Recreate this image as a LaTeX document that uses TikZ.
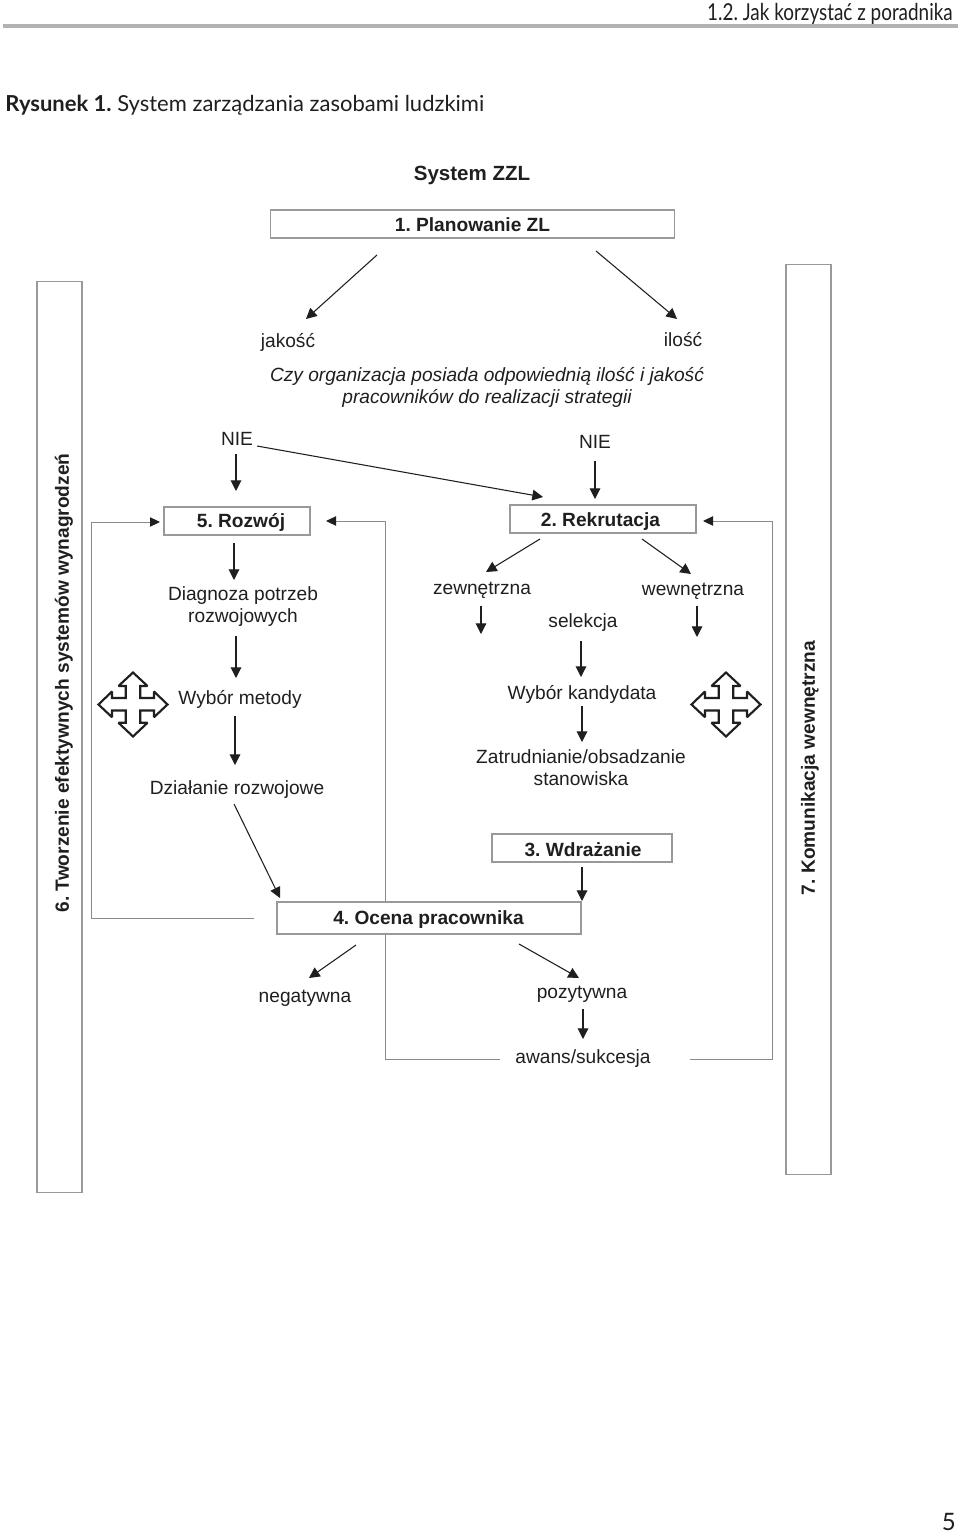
\documentclass[tikz,border=0pt]{standalone}
\usepackage{fontspec}
\setmainfont{Liberation Sans}
\newfontfamily\gill{Lato}
\usetikzlibrary{arrows.meta}
\frenchspacing
\definecolor{ink}{HTML}{1F1F1F}
\definecolor{edge}{HTML}{999999}
\definecolor{loopc}{HTML}{8A8A8A}
\tikzset{
  x=0.75pt,y=-0.75pt,
  rawlab/.style={inner sep=0pt,text=ink,align=center,font=\fontsize{14.35}{16.5}\selectfont},
  lab/.style={rawlab,yshift=-1.5pt},
  boldraw/.style={rawlab,font=\fontsize{14.35}{16.5}\selectfont\bfseries},
  boldlab/.style={boldraw,yshift=-0.8pt},
  itlab/.style={lab,font=\fontsize{14.35}{16.5}\selectfont\itshape},
  frame/.style={draw=edge,line width=0.95pt,fill=white,inner sep=0pt,minimum width=#1},
  arr/.style={draw=ink,line width=0.8pt,-{Triangle[length=8pt,width=8pt]}},
  looparr/.style={draw=loopc,line width=0.75pt,-{Triangle[length=7.5pt,width=7pt,color=ink]}},
  cross/.style={draw=ink,line width=1.6pt,fill=white,miter limit=2},
  hdr/.style={inner sep=0pt,text=ink,font=\gill},
}
% arrow between two named coordinates
\newcommand{\flow}[3]{\coordinate (#1a) at (#2);\coordinate (#1b) at (#3);\draw[arr] (#1a) -- (#1b);}
% four-way arrow
\newcommand{\fourway}[2]{%
\draw[cross,shift={(#1,#2)}] (0,-32) -- (-14.5,-18.5) -- (-7.3,-18.5) -- (-7.3,-6.5) -- (-21,-6.5) -- (-21,-13) -- (-34.5,0)
 -- (-21,12.7) -- (-21,6) -- (-7.3,6) -- (-7.3,18.3) -- (-14.5,18.3) -- (0,32) -- (14.5,18.3) -- (7.3,18.3) -- (7.3,6)
 -- (21,6) -- (21,12.7) -- (34.5,0) -- (21,-13) -- (21,-6.5) -- (7.3,-6.5) -- (7.3,-18.5) -- (14.5,-18.5) -- cycle;}
\begin{document}
\begin{tikzpicture}
\useasboundingbox[fill=white] (0,0) rectangle (960,1533);
% header
\coordinate (ruleL) at (3,26);\coordinate (ruleR) at (958,26);
\draw[line width=2.4pt,draw=black!30] (ruleL) -- (ruleR);
\node[hdr,anchor=east] (head) at (953,13.5) {\fontsize{17.5}{18}\selectfont\addfontfeature{FakeStretch=0.81}1.2. Jak korzystać z poradnika};
\node[hdr,anchor=west] (title) at (5,105) {\fontsize{16.5}{18}\selectfont\textbf{Rysunek 1.} System zarządzania zasobami ludzkimi};
\node[hdr,anchor=east] (pageno) at (956,1522) {\fontsize{18}{20}\selectfont 5};
% side bars
\node[frame=33.75pt,minimum height=683.25pt] (bar6) at (59.5,737) {};
\node[frame=33.75pt,minimum height=682.5pt] (bar7) at (808.5,719.5) {};
\node[boldraw,rotate=90] (t6) at (64,683) {6. Tworzenie efektywnych systemów wynagrodzeń};
\node[boldraw,rotate=90] (t7) at (810,768) {7. Komunikacja wewnętrzna};
% feedback lines
\coordinate (l1) at (254,918);\coordinate (l2) at (91,918);\coordinate (l3) at (91,522);\coordinate (l4) at (160,522);
\draw[looparr] (l1) -- (l2) -- (l3) -- (l4);
\coordinate (m1) at (500,1059);\coordinate (m2) at (385,1059);\coordinate (m3) at (385,521);\coordinate (m4) at (326,521);
\draw[looparr] (m1) -- (m2) -- (m3) -- (m4);
\coordinate (n1) at (690,1059);\coordinate (n2) at (772,1059);\coordinate (n3) at (772,521);\coordinate (n4) at (703,521);
\draw[looparr] (n1) -- (n2) -- (n3) -- (n4);
% boxes
\node[frame=303pt,minimum height=21pt] (b1) at (472.5,224) {};
\node[frame=109.5pt,minimum height=21pt] (b5) at (237,521) {};
\node[frame=139.5pt,minimum height=21pt] (b2) at (603,519) {};
\node[frame=135pt,minimum height=21pt] (b3) at (582,848) {};
\node[frame=228pt,minimum height=24pt] (b4) at (429,918) {};
% texts
\node[boldlab,font=\fontsize{15.4}{17}\selectfont\bfseries] (sys) at (472,174) {System ZZL};
\node[boldlab] (t1) at (472.5,224) {1. Planowanie ZL};
\node[lab] (jak) at (288,340) {jakość};
\node[lab] (ile) at (683,338) {ilość};
\node[itlab] (q) at (487,385) {Czy organizacja posiada odpowiednią ilość i jakość\\pracowników do realizacji strategii};
\node[lab] (nie1) at (237,437) {NIE};
\node[lab] (nie2) at (595,440) {NIE};
\node[boldlab] (t5) at (241,521) {5. Rozwój};
\node[lab] (diag) at (243,605) {Diagnoza potrzeb\\rozwojowych};
\node[lab] (wyb) at (240,697) {Wybór metody};
\node[lab] (dz) at (237,788) {Działanie rozwojowe};
\node[boldlab] (t2) at (600.5,520) {2. Rekrutacja};
\node[lab] (zew) at (482,588) {zewnętrzna};
\node[lab] (wew) at (693,589) {wewnętrzna};
\node[lab] (sel) at (583,621) {selekcja};
\node[lab] (kand) at (582,692) {Wybór kandydata};
\node[lab] (zat) at (581,766) {Zatrudnianie/obsadzanie\\stanowiska};
\node[boldlab] (t3) at (583,849) {3. Wdrażanie};
\node[boldlab] (t4) at (428.5,918) {4. Ocena pracownika};
\node[lab] (neg) at (305,996) {negatywna};
\node[lab] (poz) at (582,992) {pozytywna};
\node[lab] (awa) at (583,1057) {awans/sukcesja};
% arrows
\flow{A}{377,255}{306,319}
\flow{B}{596,251}{677,319}
\flow{C}{236,454}{236,491}
\flow{D}{257,446}{543,497}
\flow{E}{595,461}{595,499}
\flow{F}{234,543}{234,580}
\flow{G}{236,636}{236,678}
\flow{H}{235,716}{235,765}
\flow{I}{234,804}{280,898}
\flow{J}{540,539}{486,572}
\flow{K}{642,539}{691,574}
\flow{L}{481,606}{481,634}
\flow{M}{697,606}{697,637}
\flow{N}{581,641}{581,677}
\flow{O}{582,706}{582,742}
\flow{P}{582,867}{582,901}
\flow{Q}{356,945}{309,978}
\flow{R}{519,944}{579,978}
\flow{S}{583,1009}{583,1039}
% four-way arrows
\fourway{133}{704.5}
\fourway{726}{704.5}
\end{tikzpicture}
\end{document}
